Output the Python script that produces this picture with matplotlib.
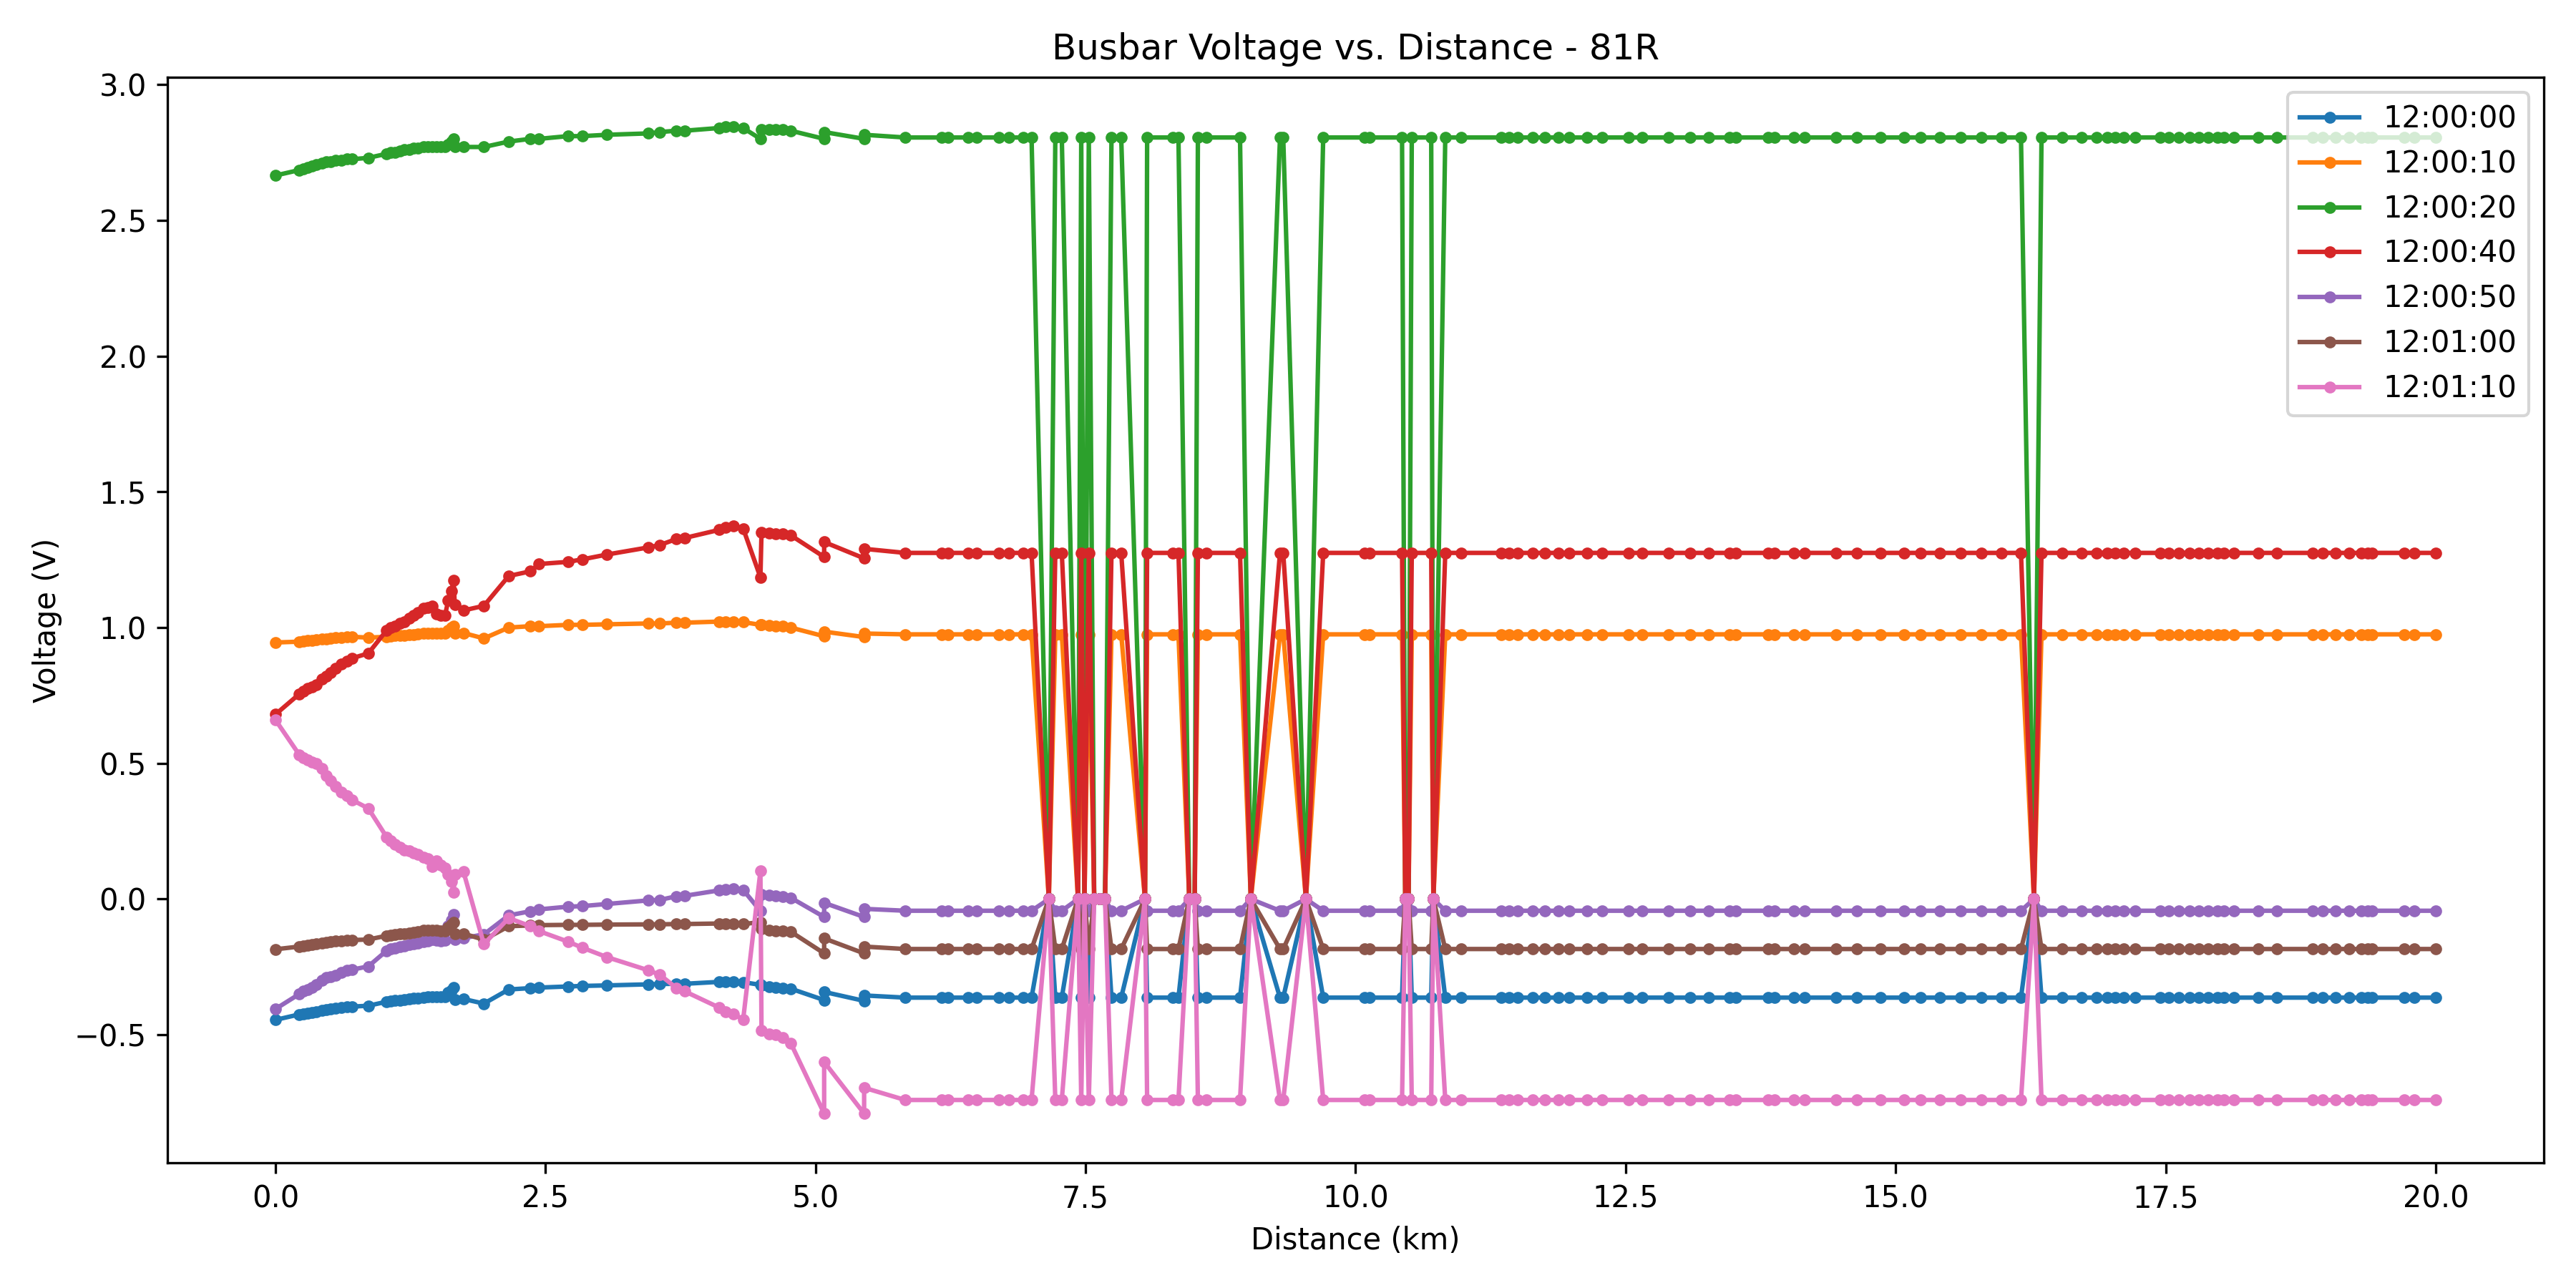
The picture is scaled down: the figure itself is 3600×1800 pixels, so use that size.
import matplotlib
matplotlib.use("Agg")
import matplotlib.pyplot as plt

labels = ["12:00:00", "12:00:10", "12:00:20", "12:00:40", "12:00:50", "12:01:00", "12:01:10"]

# distances (km), left part 0 - 5.45 km
left_x = [0.00, 0.22, 0.26, 0.30, 0.34, 0.38, 0.43, 0.47, 0.51, 0.56,
          0.61, 0.66, 0.71, 0.86, 1.03, 1.07, 1.11, 1.15, 1.19, 1.24,
          1.28, 1.32, 1.37, 1.41, 1.45, 1.49, 1.53, 1.57, 1.60, 1.63,
          1.65, 1.66, 1.74, 1.93, 2.16, 2.36, 2.44, 2.71, 2.84, 3.07,
          3.45, 3.56, 3.71, 3.79, 4.11, 4.17, 4.24, 4.33, 4.49, 4.50,
          4.57, 4.63, 4.70, 4.77, 5.08, 5.08, 5.45, 5.45]

left_blue = [-0.445, -0.425, -0.422, -0.42, -0.417, -0.414, -0.41, -0.407, -0.404, -0.402,
             -0.40, -0.398, -0.396, -0.393, -0.378, -0.376, -0.374, -0.372, -0.37, -0.368,
             -0.366, -0.364, -0.362, -0.36, -0.36, -0.36, -0.361, -0.36, -0.345, -0.335,
             -0.325, -0.37, -0.368, -0.385, -0.333, -0.328, -0.326, -0.322, -0.32, -0.318,
             -0.314, -0.313, -0.312, -0.312, -0.305, -0.304, -0.304, -0.306, -0.316, -0.318,
             -0.322, -0.325, -0.327, -0.33, -0.372, -0.342, -0.375, -0.355]
left_orange = [0.945, 0.948, 0.95, 0.952, 0.953, 0.955, 0.957, 0.958, 0.96, 0.962,
               0.963, 0.965, 0.966, 0.963, 0.966, 0.968, 0.97, 0.97, 0.972, 0.975,
               0.975, 0.977, 0.978, 0.979, 0.98, 0.978, 0.978, 0.98, 0.99, 1.0,
               1.005, 0.98, 0.98, 0.96, 1.0, 1.005, 1.005, 1.01, 1.01, 1.012,
               1.015, 1.015, 1.018, 1.018, 1.022, 1.022, 1.022, 1.02, 1.01, 1.01,
               1.008, 1.005, 1.005, 1.0, 0.968, 0.985, 0.965, 0.978]
left_green = [2.665, 2.685, 2.69, 2.695, 2.70, 2.705, 2.71, 2.715, 2.715, 2.72,
              2.72, 2.725, 2.725, 2.73, 2.745, 2.75, 2.75, 2.755, 2.76, 2.76,
              2.765, 2.765, 2.77, 2.77, 2.77, 2.77, 2.77, 2.77, 2.78, 2.79,
              2.80, 2.77, 2.77, 2.77, 2.79, 2.80, 2.80, 2.81, 2.81, 2.815,
              2.82, 2.825, 2.83, 2.83, 2.84, 2.845, 2.845, 2.84, 2.80, 2.835,
              2.835, 2.835, 2.835, 2.83, 2.80, 2.825, 2.80, 2.815]
left_red = [0.68, 0.755, 0.765, 0.775, 0.782, 0.79, 0.81, 0.82, 0.835, 0.85,
            0.865, 0.875, 0.887, 0.905, 0.99, 1.0, 1.005, 1.015, 1.02, 1.035,
            1.045, 1.055, 1.07, 1.075, 1.08, 1.05, 1.045, 1.045, 1.10, 1.135,
            1.175, 1.085, 1.063, 1.08, 1.19, 1.207, 1.234, 1.242, 1.251, 1.269,
            1.295, 1.304, 1.326, 1.33, 1.36, 1.37, 1.375, 1.365, 1.185, 1.35,
            1.348, 1.345, 1.345, 1.34, 1.26, 1.315, 1.255, 1.29]
left_purple = [-0.405, -0.35, -0.34, -0.333, -0.325, -0.315, -0.30, -0.29, -0.285, -0.28,
               -0.27, -0.262, -0.26, -0.248, -0.19, -0.184, -0.18, -0.175, -0.172, -0.168,
               -0.165, -0.162, -0.158, -0.155, -0.15, -0.152, -0.153, -0.152, -0.10, -0.078,
               -0.056, -0.149, -0.144, -0.13, -0.06, -0.045, -0.038, -0.028, -0.026, -0.018,
               -0.005, -0.003, 0.01, 0.012, 0.032, 0.036, 0.038, 0.034, -0.044, 0.018,
               0.015, 0.012, 0.01, 0.005, -0.066, -0.014, -0.066, -0.036]
left_brown = [-0.185, -0.175, -0.172, -0.17, -0.168, -0.166, -0.163, -0.16, -0.158, -0.155,
              -0.153, -0.152, -0.151, -0.149, -0.135, -0.133, -0.13, -0.128, -0.127, -0.125,
              -0.122, -0.12, -0.116, -0.115, -0.114, -0.115, -0.117, -0.118, -0.105, -0.095,
              -0.085, -0.127, -0.127, -0.15, -0.10, -0.097, -0.096, -0.095, -0.095, -0.094,
              -0.093, -0.093, -0.092, -0.092, -0.09, -0.09, -0.09, -0.092, -0.085, -0.11,
              -0.115, -0.117, -0.118, -0.12, -0.20, -0.145, -0.20, -0.175]
left_pink = [0.66, 0.532, 0.52, 0.512, 0.505, 0.498, 0.48, 0.455, 0.435, 0.415,
             0.395, 0.38, 0.365, 0.334, 0.228, 0.215, 0.202, 0.19, 0.18, 0.178,
             0.17, 0.165, 0.155, 0.15, 0.12, 0.14, 0.125, 0.115, 0.09, 0.065,
             0.025, 0.09, 0.102, -0.166, -0.07, -0.10, -0.118, -0.157, -0.179, -0.214,
             -0.262, -0.279, -0.327, -0.34, -0.40, -0.414, -0.422, -0.444, 0.103, -0.483,
             -0.496, -0.50, -0.51, -0.53, -0.79, -0.60, -0.79, -0.695]

# distances (km), right part 5.83 - 20 km
right_x = [5.83, 6.17, 6.23, 6.41, 6.49, 6.70, 6.79, 6.92, 7.00, 7.16,
           7.22, 7.28, 7.43, 7.46, 7.49, 7.53, 7.58, 7.63, 7.68, 7.74,
           7.83, 8.05, 8.07, 8.31, 8.36, 8.46, 8.51, 8.54, 8.62, 8.93,
           9.03, 9.30, 9.33, 9.54, 9.70, 10.08, 10.13, 10.43, 10.46, 10.49,
           10.52, 10.70, 10.72, 10.83, 10.98, 11.35, 11.42, 11.50, 11.64, 11.75,
           11.88, 11.98, 12.14, 12.28, 12.53, 12.65, 12.90, 13.10, 13.27, 13.46,
           13.52, 13.82, 13.88, 14.06, 14.16, 14.45, 14.64, 14.86, 15.08, 15.23,
           15.41, 15.60, 15.79, 15.98, 16.16, 16.28, 16.35, 16.54, 16.72, 16.86,
           16.96, 17.03, 17.11, 17.22, 17.45, 17.53, 17.62, 17.72, 17.81, 17.89,
           17.98, 18.04, 18.13, 18.36, 18.53, 18.86, 18.95, 19.07, 19.20, 19.31,
           19.37, 19.41, 19.71, 19.80, 20.00]

right_blue = [-0.363, -0.363, -0.363, -0.363, -0.363, -0.363, -0.363, -0.363, -0.363, 0.0,
              -0.363, -0.363, 0.0, -0.363, 0.0, -0.363, 0.0, 0.0, 0.0, -0.363,
              -0.363, 0.0, -0.363, -0.363, -0.363, 0.0, 0.0, -0.363, -0.363, -0.363,
              0.0, -0.363, -0.363, 0.0, -0.363, -0.363, -0.363, -0.363, 0.0, 0.0,
              -0.363, -0.363, 0.0, -0.363, -0.363, -0.363, -0.363, -0.363, -0.363, -0.363,
              -0.363, -0.363, -0.363, -0.363, -0.363, -0.363, -0.363, -0.363, -0.363, -0.363,
              -0.363, -0.363, -0.363, -0.363, -0.363, -0.363, -0.363, -0.363, -0.363, -0.363,
              -0.363, -0.363, -0.363, -0.363, -0.363, 0.0, -0.363, -0.363, -0.363, -0.363,
              -0.363, -0.363, -0.363, -0.363, -0.363, -0.363, -0.363, -0.363, -0.363, -0.363,
              -0.363, -0.363, -0.363, -0.363, -0.363, -0.363, -0.363, -0.363, -0.363, -0.363,
              -0.363, -0.363, -0.363, -0.363, -0.363]
right_orange = [0.975, 0.975, 0.975, 0.975, 0.975, 0.975, 0.975, 0.975, 0.975, 0.0,
                0.975, 0.975, 0.0, 0.975, 0.0, 0.975, 0.0, 0.0, 0.0, 0.975,
                0.975, 0.0, 0.975, 0.975, 0.975, 0.0, 0.0, 0.975, 0.975, 0.975,
                0.0, 0.975, 0.975, 0.0, 0.975, 0.975, 0.975, 0.975, 0.0, 0.0,
                0.975, 0.975, 0.0, 0.975, 0.975, 0.975, 0.975, 0.975, 0.975, 0.975,
                0.975, 0.975, 0.975, 0.975, 0.975, 0.975, 0.975, 0.975, 0.975, 0.975,
                0.975, 0.975, 0.975, 0.975, 0.975, 0.975, 0.975, 0.975, 0.975, 0.975,
                0.975, 0.975, 0.975, 0.975, 0.975, 0.0, 0.975, 0.975, 0.975, 0.975,
                0.975, 0.975, 0.975, 0.975, 0.975, 0.975, 0.975, 0.975, 0.975, 0.975,
                0.975, 0.975, 0.975, 0.975, 0.975, 0.975, 0.975, 0.975, 0.975, 0.975,
                0.975, 0.975, 0.975, 0.975, 0.975]
right_green = [2.805, 2.805, 2.805, 2.805, 2.805, 2.805, 2.805, 2.805, 2.805, 0.0,
               2.805, 2.805, 0.0, 2.805, 0.0, 2.805, 0.0, 0.0, 0.0, 2.805,
               2.805, 0.0, 2.805, 2.805, 2.805, 0.0, 0.0, 2.805, 2.805, 2.805,
               0.0, 2.805, 2.805, 0.0, 2.805, 2.805, 2.805, 2.805, 0.0, 0.0,
               2.805, 2.805, 0.0, 2.805, 2.805, 2.805, 2.805, 2.805, 2.805, 2.805,
               2.805, 2.805, 2.805, 2.805, 2.805, 2.805, 2.805, 2.805, 2.805, 2.805,
               2.805, 2.805, 2.805, 2.805, 2.805, 2.805, 2.805, 2.805, 2.805, 2.805,
               2.805, 2.805, 2.805, 2.805, 2.805, 0.0, 2.805, 2.805, 2.805, 2.805,
               2.805, 2.805, 2.805, 2.805, 2.805, 2.805, 2.805, 2.805, 2.805, 2.805,
               2.805, 2.805, 2.805, 2.805, 2.805, 2.805, 2.805, 2.805, 2.805, 2.805,
               2.805, 2.805, 2.805, 2.805, 2.805]
right_red = [1.275, 1.275, 1.275, 1.275, 1.275, 1.275, 1.275, 1.275, 1.275, 0.0,
             1.275, 1.275, 0.0, 1.275, 0.0, 1.275, 0.0, 0.0, 0.0, 1.275,
             1.275, 0.0, 1.275, 1.275, 1.275, 0.0, 0.0, 1.275, 1.275, 1.275,
             0.0, 1.275, 1.275, 0.0, 1.275, 1.275, 1.275, 1.275, 0.0, 0.0,
             1.275, 1.275, 0.0, 1.275, 1.275, 1.275, 1.275, 1.275, 1.275, 1.275,
             1.275, 1.275, 1.275, 1.275, 1.275, 1.275, 1.275, 1.275, 1.275, 1.275,
             1.275, 1.275, 1.275, 1.275, 1.275, 1.275, 1.275, 1.275, 1.275, 1.275,
             1.275, 1.275, 1.275, 1.275, 1.275, 0.0, 1.275, 1.275, 1.275, 1.275,
             1.275, 1.275, 1.275, 1.275, 1.275, 1.275, 1.275, 1.275, 1.275, 1.275,
             1.275, 1.275, 1.275, 1.275, 1.275, 1.275, 1.275, 1.275, 1.275, 1.275,
             1.275, 1.275, 1.275, 1.275, 1.275]
right_purple = [-0.043, -0.043, -0.043, -0.043, -0.043, -0.043, -0.043, -0.043, -0.043, 0.0,
                -0.043, -0.043, 0.0, -0.043, 0.0, -0.043, 0.0, 0.0, 0.0, -0.043,
                -0.043, 0.0, -0.043, -0.043, -0.043, 0.0, 0.0, -0.043, -0.043, -0.043,
                0.0, -0.043, -0.043, 0.0, -0.043, -0.043, -0.043, -0.043, 0.0, 0.0,
                -0.043, -0.043, 0.0, -0.043, -0.043, -0.043, -0.043, -0.043, -0.043, -0.043,
                -0.043, -0.043, -0.043, -0.043, -0.043, -0.043, -0.043, -0.043, -0.043, -0.043,
                -0.043, -0.043, -0.043, -0.043, -0.043, -0.043, -0.043, -0.043, -0.043, -0.043,
                -0.043, -0.043, -0.043, -0.043, -0.043, 0.0, -0.043, -0.043, -0.043, -0.043,
                -0.043, -0.043, -0.043, -0.043, -0.043, -0.043, -0.043, -0.043, -0.043, -0.043,
                -0.043, -0.043, -0.043, -0.043, -0.043, -0.043, -0.043, -0.043, -0.043, -0.043,
                -0.043, -0.043, -0.043, -0.043, -0.043]
right_brown = [-0.184, -0.184, -0.184, -0.184, -0.184, -0.184, -0.184, -0.184, -0.184, 0.0,
               -0.184, -0.184, 0.0, -0.184, 0.0, -0.184, 0.0, 0.0, 0.0, -0.184,
               -0.184, 0.0, -0.184, -0.184, -0.184, 0.0, 0.0, -0.184, -0.184, -0.184,
               0.0, -0.184, -0.184, 0.0, -0.184, -0.184, -0.184, -0.184, 0.0, 0.0,
               -0.184, -0.184, 0.0, -0.184, -0.184, -0.184, -0.184, -0.184, -0.184, -0.184,
               -0.184, -0.184, -0.184, -0.184, -0.184, -0.184, -0.184, -0.184, -0.184, -0.184,
               -0.184, -0.184, -0.184, -0.184, -0.184, -0.184, -0.184, -0.184, -0.184, -0.184,
               -0.184, -0.184, -0.184, -0.184, -0.184, 0.0, -0.184, -0.184, -0.184, -0.184,
               -0.184, -0.184, -0.184, -0.184, -0.184, -0.184, -0.184, -0.184, -0.184, -0.184,
               -0.184, -0.184, -0.184, -0.184, -0.184, -0.184, -0.184, -0.184, -0.184, -0.184,
               -0.184, -0.184, -0.184, -0.184, -0.184]
right_pink = [-0.74, -0.74, -0.74, -0.74, -0.74, -0.74, -0.74, -0.74, -0.74, 0.0,
              -0.74, -0.74, 0.0, -0.74, 0.0, -0.74, 0.0, 0.0, 0.0, -0.74,
              -0.74, 0.0, -0.74, -0.74, -0.74, 0.0, 0.0, -0.74, -0.74, -0.74,
              0.0, -0.74, -0.74, 0.0, -0.74, -0.74, -0.74, -0.74, 0.0, 0.0,
              -0.74, -0.74, 0.0, -0.74, -0.74, -0.74, -0.74, -0.74, -0.74, -0.74,
              -0.74, -0.74, -0.74, -0.74, -0.74, -0.74, -0.74, -0.74, -0.74, -0.74,
              -0.74, -0.74, -0.74, -0.74, -0.74, -0.74, -0.74, -0.74, -0.74, -0.74,
              -0.74, -0.74, -0.74, -0.74, -0.74, 0.0, -0.74, -0.74, -0.74, -0.74,
              -0.74, -0.74, -0.74, -0.74, -0.74, -0.74, -0.74, -0.74, -0.74, -0.74,
              -0.74, -0.74, -0.74, -0.74, -0.74, -0.74, -0.74, -0.74, -0.74, -0.74,
              -0.74, -0.74, -0.74, -0.74, -0.74]

distance = left_x + right_x
series = [
    left_blue + right_blue,
    left_orange + right_orange,
    left_green + right_green,
    left_red + right_red,
    left_purple + right_purple,
    left_brown + right_brown,
    left_pink + right_pink,
]
colors = ["#1f77b4", "#ff7f0e", "#2ca02c", "#d62728", "#9467bd", "#8c564b", "#e377c2"]

fig, ax = plt.subplots(figsize=(12, 6), dpi=300)
for vals, lab, col in zip(series, labels, colors):
    ax.plot(distance, vals, marker="o", markersize=3, linewidth=1.5, color=col, label=lab)

ax.set_title("Busbar Voltage vs. Distance - 81R")
ax.set_xlabel("Distance (km)")
ax.set_ylabel("Voltage (V)")
ax.legend(loc="upper right")
fig.tight_layout()
fig.savefig("out.png", dpi=300)
